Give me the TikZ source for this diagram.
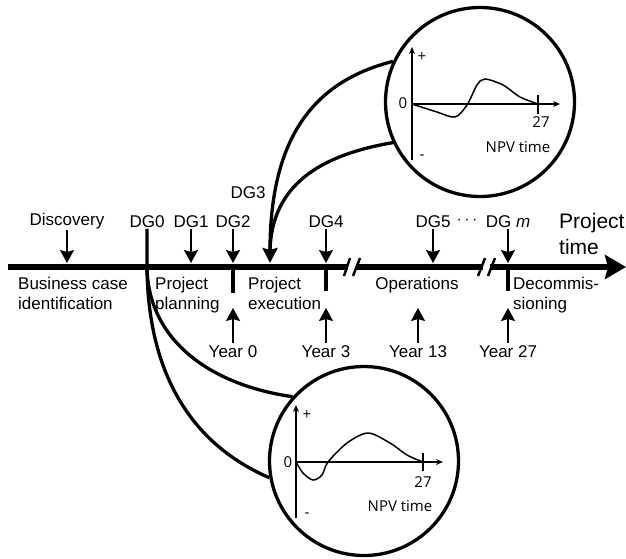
\documentclass[tikz,border=0pt]{standalone}
\usepackage{fontspec}
\setmainfont{Liberation Sans}
\newfontfamily\npvfont{Open Sans}
\usetikzlibrary{arrows.meta}
\tikzset{
  lbl/.style={font=\fontsize{17}{20}\selectfont, inner sep=1.5pt},
  phase/.style={font=\fontsize{17}{20}\selectfont, inner sep=0pt, anchor=north west, align=left},
  dn/.style={line width=1.8pt, -{Stealth[length=13pt,width=14pt,inset=2pt]}},
  link/.style={line width=3.3pt},
  tick/.style={line width=4pt},
  npv/.style={font=\npvfont\fontsize{15}{17}\selectfont, inner sep=0pt},
  ax/.style={line width=1.5pt, -{Stealth[length=7pt,width=6pt]}}
}

\begin{document}
\begin{tikzpicture}[x=1pt,y=-1pt]
  \useasboundingbox (0,0) rectangle (626,558);
  % time line with the two breaks
  \coordinate (top) at (0,263);
  \coordinate (bot) at (0,308);
  \draw[line width=5.5pt] (8,267) -- (348,267) (356,267) -- (483,267);
  \draw[line width=5.5pt, -{Stealth[length=21pt,width=24pt,inset=3pt]}] (490,267) -- (626,267);
  \draw[line width=2.5pt] (344,276) -- (350,258) (353,276) -- (360,258)
                          (478,276) -- (485,258) (488,276) -- (495,258);
  \draw[tick] (233,267) -- (233,293);
  \draw[tick] (326,267) -- (326,291);
  \draw[tick] (508,267) -- (508,291);

  % decision gates
  \node[lbl, anchor=base] (disc) at (67,225) {Discovery};
  \node[lbl, anchor=base] (dg0) at (147,227) {DG0};
  \node[lbl, anchor=base] (dg1) at (191,227) {DG1};
  \node[lbl, anchor=base] (dg2) at (233,227) {DG2};
  \node[lbl, anchor=base] (dg3) at (248,198) {DG3};
  \node[lbl, anchor=base] (dg4) at (326,227) {DG4};
  \node[lbl, anchor=base] (dg5) at (433,227) {DG5};
  \node[lbl] (dots) at (467,221) {$\cdots$};
  \node[lbl, anchor=base] (dgm) at (508,227) {DG \textit{m}};
  \foreach \g in {disc,dg1,dg2,dg4,dg5,dgm}
    \draw[dn] (\g.south) -- (\g.south |- top);

  \node[font=\fontsize{21}{26.3}\selectfont, inner sep=0pt, anchor=north west, align=left]
    (ptime) at (559,213) {Project\\time};

  % phases
  \node[phase] (bci) at (18,276.5) {Business case\\identification};
  \node[phase] (plan) at (155,276.5) {Project\\planning};
  \node[phase] (exec) at (248,276.5) {Project\\execution};
  \node[lbl, anchor=base] (ops) at (417,289) {Operations};
  \node[phase] (decom) at (513,276.5) {Decommis-\\sioning};

  % years
  \node[lbl, anchor=base] (y0) at (233,357) {Year 0};
  \node[lbl, anchor=base] (y3) at (326,357) {Year 3};
  \node[lbl, anchor=base] (y13) at (418,357) {Year 13};
  \node[lbl, anchor=base] (y27) at (508,357) {Year 27};
  \foreach \y in {y0,y3,y13,y27}
    \draw[dn] (\y.north) -- (\y.north |- bot);

  % NPV circles
  \node[circle, draw, line width=3.3pt, minimum size=189pt, inner sep=0pt] (npvT) at (480,102) {};
  \node[circle, draw, line width=3.3pt, minimum size=189pt, inner sep=0pt] (npvB) at (364,461) {};

  \begin{scope}[shift={(480,102)}]
    \draw[ax] (-68,58) -- (-68,-55);
    \draw[ax] (-68,2) -- (80,2);
    \draw[line width=1.5pt] (58,-7) -- (58,12);
    \draw[line width=1.5pt] plot[smooth] coordinates {(-68,2) (-43,10) (-25,15) (-13,3) (-3,-17) (5,-23) (23,-17) (40,-5) (58,2)};
    \node[npv] (tplus) at (-58,-45) {+};
    \node[npv] (tminus) at (-58,55) {-};
    \node[npv] (tzero) at (-77,1) {0};
    \node[npv] (tend) at (61,20) {27};
    \node[npv] (tlab) at (38,45) {NPV time};
  \end{scope}

  \begin{scope}[shift={(364,461)}]
    \draw[ax] (-68,57) -- (-68,-56);
    \draw[ax] (-68,1) -- (79,1);
    \draw[line width=1.5pt] (59,-8) -- (59,10);
    \draw[line width=1.5pt] plot[smooth] coordinates {(-68,1) (-61,12) (-51,19) (-42,14) (-36,1) (-17,-18) (4,-28) (26,-18) (43,-6) (59,1)};
    \node[npv] (bplus) at (-57,-46) {+};
    \node[npv] (bminus) at (-57,54) {-};
    \node[npv] (bzero) at (-76,1) {0};
    \node[npv] (bend) at (59,21) {27};
    \node[npv] (blab) at (36,45) {NPV time};
  \end{scope}

  % links from the gates to the circles
  \coordinate (dg0t) at (147,267);
  \coordinate (dg3t) at (270,263);
  \coordinate (dg3j) at (270,250);
  \draw[link] (dg0.south) -- (dg0t) .. controls (148,390) and (205,450) .. (npvB.190);
  \draw[link] (dg0t) .. controls (148,340) and (210,385) .. (npvB.138);
  \draw[link, -{Stealth[length=15pt,width=15pt,inset=2pt]}] (npvT.155) .. controls (320,80) and (270,130) .. (dg3t);
  \draw[link] (npvT.205) .. controls (320,155) and (272,185) .. (dg3j);
\end{tikzpicture}
\end{document}
